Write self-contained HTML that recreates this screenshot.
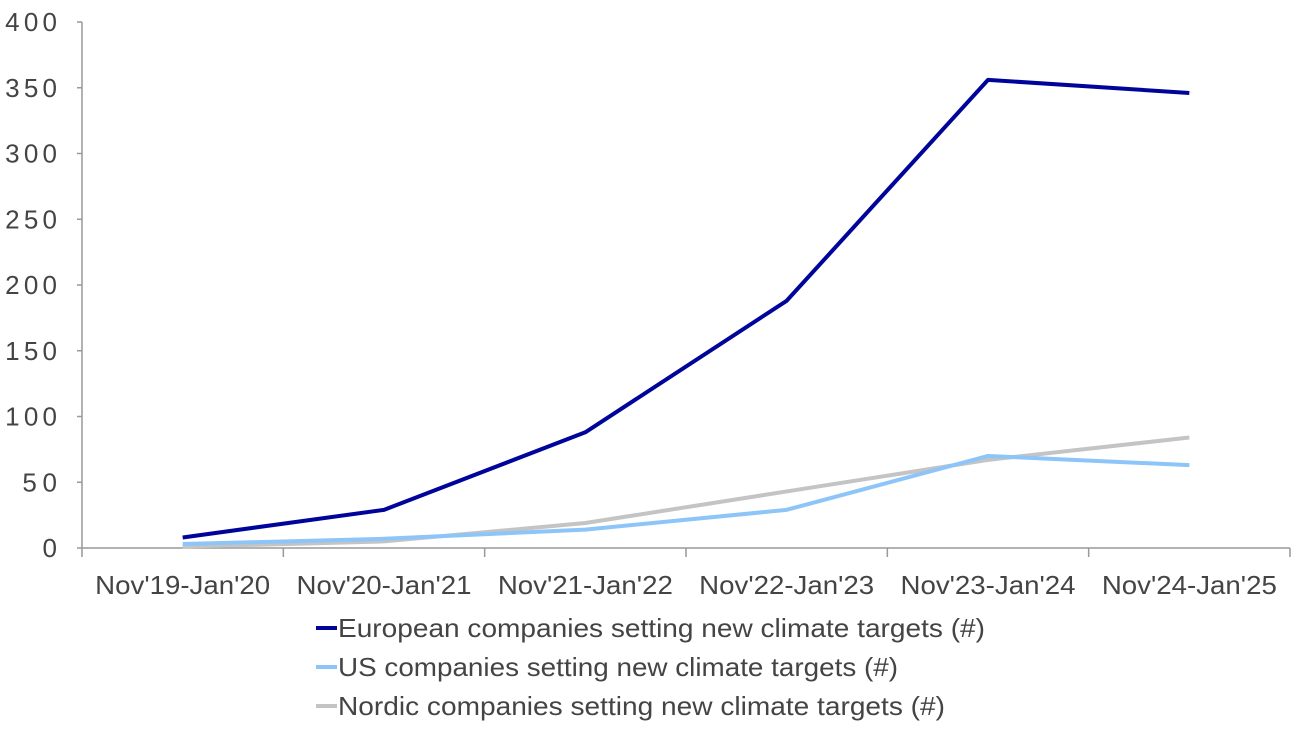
<!DOCTYPE html>
<html><head><meta charset="utf-8"><style>
html,body{margin:0;padding:0;background:#fff;}
svg{display:block;font-family:"Liberation Sans",sans-serif;}
</style></head><body>
<svg id="chart" width="1300" height="731" viewBox="0 0 1300 731" xmlns="http://www.w3.org/2000/svg"></svg>
<script>
const categories = ["Nov'19-Jan'20","Nov'20-Jan'21","Nov'21-Jan'22","Nov'22-Jan'23","Nov'23-Jan'24","Nov'24-Jan'25"];
const europeValues = [8, 29, 88, 188, 356, 346];
const usValues = [3, 7, 14, 29, 70, 63];
const nordicValues = [1, 5, 19, 43, 67, 84];
const yTicks = [0, 50, 100, 150, 200, 250, 300, 350, 400];
const seriesNames = ["European companies setting new climate targets (#)","US companies setting new climate targets (#)","Nordic companies setting new climate targets (#)"];

const svg = document.getElementById('chart');
const NS = 'http://www.w3.org/2000/svg';
const x0 = 82, x1 = 1290, y0 = 548, yTop = 22, yMax = 400;
const band = (x1 - x0) / categories.length;
const xPos = i => x0 + band * (i + 0.5);
const yPos = v => y0 - (v / yMax) * (y0 - yTop);
function mk(tag, attrs){const e=document.createElementNS(NS,tag);for(const k in attrs)e.setAttribute(k,attrs[k]);svg.appendChild(e);return e;}

yTicks.forEach(v=>{
  const t = mk('text',{x:57,y:yPos(v)+9,'text-anchor':'end','font-size':26,fill:'#444'});
  t.textContent = v;
  t.setAttribute('textLength', String(v).length*17.3);
  
  
  const tk = mk('line',{x1:77,x2:x0,y1:yPos(v),y2:yPos(v),stroke:'#999','stroke-width':1.5});
  
  
});
const ya = mk('line',{x1:x0,x2:x0,y1:yTop,y2:y0,stroke:'#999','stroke-width':1.5});


const xa = mk('line',{x1:x0,x2:x1,y1:y0,y2:y0,stroke:'#999','stroke-width':1.5});


for(let i=0;i<=categories.length;i++){
  const tk = mk('line',{x1:x0+band*i,x2:x0+band*i,y1:y0,y2:y0+9,stroke:'#999','stroke-width':1.5});
  
  
}
categories.forEach((c,i)=>{
  const t = mk('text',{x:xPos(i),y:594,'text-anchor':'middle','font-size':26,fill:'#444',textLength:175,lengthAdjust:'spacingAndGlyphs'});
  t.textContent = c;
  
  
});
const series = [[nordicValues,'#c4c4c4','nordic-line'],[usValues,'#8ec5f8','us-line'],[europeValues,'#00049a','europe-line']];
series.forEach(([vals,col,name])=>{
  const p = mk('polyline',{points:vals.map((v,i)=>xPos(i)+','+yPos(v)).join(' '),fill:'none',stroke:col,'stroke-width':4,'stroke-linejoin':'round'});
  
  
});
const legCols = ['#00049a','#8ec5f8','#c4c4c4'];
const legLens = [647, 560, 607];
seriesNames.forEach((n,i)=>{
  const y = 628 + i*39;
  const l = mk('line',{x1:316,x2:337,y1:y,y2:y,stroke:legCols[i],'stroke-width':4});
  
  
  const t = mk('text',{x:338,y:y+9,'font-size':26,fill:'#444',textLength:legLens[i],lengthAdjust:'spacingAndGlyphs'});
  t.textContent = n;
  
  
});
</script>
</body></html>
